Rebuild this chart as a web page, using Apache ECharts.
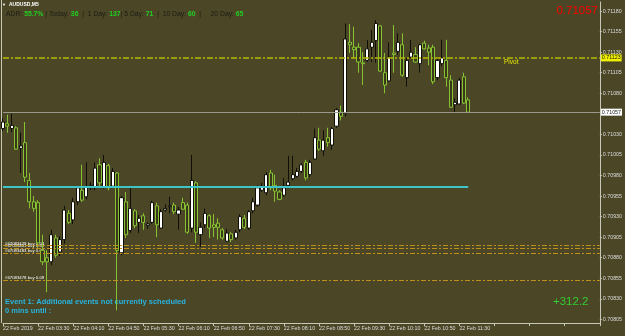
<!DOCTYPE html>
<html>
<head>
<meta charset="utf-8">
<script src="https://cdn.jsdelivr.net/npm/echarts@6/dist/echarts.min.js"></script>
<style>
html,body{margin:0;padding:0;background:#4a4626;}
#chart{width:625px;height:336px;}
</style>
</head>
<body>
<div id="chart"></div>
<script>
// AUDUSD M5, 22 Feb 2019, bars from 02:50 to 11:40
const opens = [
  0.71037,0.71043,0.71037,0.71038,0.71013,0.71020,0.70974,0.70948,0.70947,0.70889,
  0.70880,0.70875,0.70904,0.70887,0.70902,0.70934,0.70926,0.70948,0.70962,0.70954,
  0.70965,0.70965,0.70993,0.70966,0.70992,0.70967,0.70983,0.70886,0.70948,0.70913,
  0.70937,0.70923,0.70931,0.70919,0.70923,0.70943,0.70916,0.70938,0.70942,0.70944,
  0.70933,0.70947,0.70944,0.70916,0.70971,0.70908,0.70920,0.70931,0.70920,0.70922,
  0.70914,0.70900,0.70909,0.70904,0.70914,0.70928,0.70916,0.70937,0.70944,0.70962,
  0.70959,0.70983,0.70968,0.70960,0.70956,0.70968,0.70976,0.70979,0.70985,0.70996,
  0.70981,0.71000,0.71023,0.71010,0.71026,0.71017,0.71040,0.71057,0.71055,0.71142,
  0.71136,0.71136,0.71117,0.71120,0.71136,0.71144,0.71162,0.71105,0.71095,0.71129,
  0.71131,0.71139,0.71099,0.71124,0.71127,0.71116,0.71141,0.71135,0.71136,0.71099,
  0.71116,0.71120,0.71096,0.71066,0.71067,0.71100,0.71072
];
const closes = [
  0.71045,0.71040,0.71041,0.71012,0.71016,0.70978,0.70948,0.70940,0.70898,0.70875,
  0.70875,0.70908,0.70883,0.70902,0.70938,0.70923,0.70948,0.70965,0.70950,0.70966,
  0.70968,0.70989,0.70971,0.70996,0.70965,0.70985,0.70889,0.70953,0.70908,0.70940,
  0.70919,0.70928,0.70923,0.70921,0.70947,0.70920,0.70936,0.70940,0.70943,0.70936,
  0.70938,0.70939,0.70911,0.70974,0.70911,0.70917,0.70934,0.70916,0.70917,0.70917,
  0.70904,0.70910,0.70902,0.70911,0.70930,0.70917,0.70936,0.70948,0.70965,0.70966,
  0.70981,0.70965,0.70961,0.70951,0.70965,0.70972,0.70981,0.70985,0.70993,0.70977,
  0.70996,0.71026,0.71012,0.71023,0.71020,0.71037,0.71060,0.71052,0.71146,0.71139,
  0.71133,0.71118,0.71116,0.71134,0.71142,0.71165,0.71107,0.71090,0.71124,0.71127,
  0.71142,0.71102,0.71120,0.71130,0.71118,0.71139,0.71134,0.71130,0.71094,0.71120,
  0.71123,0.71099,0.71063,0.71069,0.71096,0.71068,0.71057
];
const lows = [
  0.71034,0.71032,0.71033,0.71011,0.70983,0.70972,0.70940,0.70936,0.70892,0.70871,
  0.70838,0.70871,0.70880,0.70882,0.70897,0.70921,0.70921,0.70944,0.70948,0.70951,
  0.70962,0.70962,0.70965,0.70964,0.70962,0.70965,0.70816,0.70883,0.70904,0.70910,
  0.70916,0.70910,0.70914,0.70915,0.70921,0.70905,0.70915,0.70936,0.70934,0.70933,
  0.70914,0.70938,0.70909,0.70911,0.70898,0.70893,0.70916,0.70904,0.70905,0.70902,
  0.70902,0.70899,0.70899,0.70902,0.70911,0.70915,0.70914,0.70934,0.70942,0.70960,
  0.70956,0.70962,0.70948,0.70950,0.70954,0.70967,0.70974,0.70977,0.70983,0.70974,
  0.70978,0.70999,0.71010,0.71004,0.71015,0.71011,0.71038,0.71047,0.71052,0.71129,
  0.71123,0.71105,0.71090,0.71118,0.71118,0.71117,0.71106,0.71080,0.71094,0.71105,
  0.71127,0.71100,0.71088,0.71123,0.71117,0.71105,0.71133,0.71114,0.71091,0.71096,
  0.71113,0.71088,0.71062,0.71056,0.71066,0.71067,0.71056
];
const highs = [
  0.71050,0.71054,0.71055,0.71040,0.71032,0.71045,0.70983,0.70955,0.70950,0.70908,
  0.70889,0.70914,0.70908,0.70906,0.70943,0.70938,0.70953,0.70967,0.70993,0.70996,
  0.70972,0.70996,0.71001,0.71005,0.70994,0.70989,0.70984,0.70955,0.70960,0.70965,
  0.70939,0.70932,0.70934,0.70923,0.70949,0.70947,0.70939,0.70945,0.70954,0.70947,
  0.70942,0.70953,0.70947,0.71005,0.70973,0.70923,0.70940,0.70933,0.70933,0.70928,
  0.70916,0.70915,0.70911,0.70914,0.70933,0.70932,0.70938,0.70953,0.70968,0.70971,
  0.70984,0.70987,0.70981,0.70962,0.70977,0.71004,0.71004,0.70989,0.70995,0.70999,
  0.70999,0.71037,0.71038,0.71035,0.71038,0.71039,0.71062,0.71065,0.71165,0.71164,
  0.71161,0.71141,0.71130,0.71145,0.71157,0.71169,0.71163,0.71129,0.71142,0.71163,
  0.71153,0.71153,0.71123,0.71145,0.71136,0.71140,0.71144,0.71139,0.71139,0.71123,
  0.71145,0.71145,0.71102,0.71074,0.71099,0.71105,0.71075
];

const xTickLabels = ['22 Feb 2019','22 Feb 03:30','22 Feb 04:10','22 Feb 04:50','22 Feb 05:30',
  '22 Feb 06:10','22 Feb 06:50','22 Feb 07:30','22 Feb 08:10','22 Feb 08:50','22 Feb 09:30',
  '22 Feb 10:10','22 Feb 10:50','22 Feb 11:30'];
const yTicks = [0.70805,0.70830,0.70855,0.70880,0.70905,0.70930,0.70955,0.70980,
  0.71005,0.71030,0.71080,0.71105,0.71130,0.71155,0.71180];

const pivot = 0.71123;
const bid = 0.71057;
const cyanLevel = 0.70966;
const tradeLevels = [0.70895, 0.70892, 0.70886, 0.70852];
const tradeLabels = ['#67083479 buy 0.09', '#67083481 buy 0.09', '#67083483 buy 0.09', '#67083478 buy 0.09'];

const slots = 137; // bars plus empty space to the right
const lastSlot = slots - 1;
const cats = [];
for (let i = 0; i < slots; i++) cats.push(i);
const ohlc = opens.map((o, i) => [o, closes[i], lows[i], highs[i]]);

const frame = '#c8c8b8';
const font = '"Liberation Sans", Arial, sans-serif';

function hline(v, x0, x1, lineStyle, label) {
  return [
    {coord: [x0, v], lineStyle: lineStyle, label: label || {show: false}},
    {coord: [x1, v]}
  ];
}

const chart = echarts.init(document.getElementById('chart'));

chart.setOption({
  animation: false,
  backgroundColor: '#4a4626',
  grid: {left: 0.75, right: 25, top: 2, bottom: 13},
  xAxis: {
    type: 'category',
    data: cats,
    boundaryGap: false,
    axisLine: {lineStyle: {color: frame, width: 1}},
    axisTick: {interval: 7, length: 3, lineStyle: {color: frame}},
    axisLabel: {
      interval: 7, align: 'left', margin: 3, fontSize: 5.3, color: '#dcdcdc', fontFamily: font,
      formatter: (v, i) => xTickLabels[i / 8] || ''
    },
    splitLine: {show: false}
  },
  yAxis: {
    type: 'value',
    position: 'right',
    min: 0.708006,
    max: 0.71191,
    axisLine: {show: true, lineStyle: {color: frame}},
    axisTick: {show: true, length: 2, customValues: yTicks, lineStyle: {color: frame}},
    axisLabel: {
      customValues: yTicks, formatter: v => v.toFixed(5),
      fontSize: 5.3, color: '#dcdcdc', margin: 3, fontFamily: font
    },
    splitLine: {show: false}
  },
  series: [{
    type: 'candlestick',
    data: ohlc,
    barWidth: 3.6,
    itemStyle: {
      color: '#ffffff', borderColor: '#101008',
      color0: '#3a381a', borderColor0: '#86c232',
      borderWidth: 1
    },
    markLine: {
      silent: true,
      symbol: 'none',
      data: [
        ...tradeLevels.map(v => hline(v, 0, lastSlot, {color: '#c0901c', type: [5, 2, 2, 2], width: 1})),
        hline(cyanLevel, 0, opens.length - 1, {color: '#3cc4c8', type: 'solid', width: 2}),
        hline(pivot, 0, lastSlot, {color: '#b8b800', type: [6, 2, 2, 2], width: 1.5}, {
          show: true, position: 'end', distance: 1, formatter: pivot.toFixed(5),
          backgroundColor: '#f0f000', color: '#202000', fontSize: 5.3, fontFamily: font, padding: [1, 1]
        }),
        hline(bid, 0, lastSlot, {color: '#9a9a8c', type: 'solid', width: 1}, {
          show: true, position: 'end', distance: 1, formatter: bid.toFixed(5),
          backgroundColor: '#ffffff', color: '#202020', fontSize: 5.3, fontFamily: font, padding: [1, 1]
        })
      ]
    }
  }],
  graphic: [
    {type: 'line', shape: {x1: 1.5, y1: 0, x2: 1.5, y2: 323}, style: {stroke: frame, lineWidth: 1}, silent: true},
    {type: 'text', x: 2, y: 5, style: {text: '▼', fill: '#ffffff', font: '4px ' + font, verticalAlign: 'middle'}},
    {type: 'text', x: 9, y: 5, style: {text: 'AUDUSD,M5', fill: '#ffffff', font: 'bold 5px ' + font, verticalAlign: 'middle'}},
    {type: 'text', x: 6, y: 14.5, style: {
      text: '{d|ADR: }{g|55.7%}{d| | Today: }{g|36}{d|  |  1 Day: }{g|137}{d|| 5 Day: }{g|71}{d|  |  10 Day: }{g|60}{d|  |     20 Day: }{g|65}',
      verticalAlign: 'middle',
      rich: {
        d: {fill: '#1c1c14', font: '6.8px ' + font},
        g: {fill: '#22d022', font: 'bold 6.8px ' + font}
      }
    }},
    {type: 'text', x: 598, y: 10.5, style: {text: '0.71057', fill: '#ff0000', font: '11.5px ' + font, align: 'right', verticalAlign: 'middle'}},
    {type: 'text', x: 504, y: 62, style: {text: 'Pivot', fill: '#e8e800', font: '6.5px ' + font, verticalAlign: 'middle'}},
    {type: 'text', x: 5, y: 243.5, style: {text: tradeLabels[0], fill: '#ffffff', font: '4.3px ' + font, verticalAlign: 'middle'}},
    {type: 'text', x: 5, y: 245.5, style: {text: tradeLabels[1], fill: '#ffffff', font: '4.3px ' + font, verticalAlign: 'middle'}},
    {type: 'text', x: 5, y: 251, style: {text: tradeLabels[2], fill: '#ffffff', font: '4.3px ' + font, verticalAlign: 'middle'}},
    {type: 'text', x: 5, y: 278, style: {text: tradeLabels[3], fill: '#ffffff', font: '4.3px ' + font, verticalAlign: 'middle'}},
    {type: 'text', x: 5, y: 302, style: {text: 'Event 1: Additional events not currently scheduled', fill: '#28b4e0', font: 'bold 7.5px ' + font, verticalAlign: 'middle'}},
    {type: 'text', x: 5, y: 310.5, style: {text: '0 mins until :', fill: '#28b4e0', font: 'bold 7.5px ' + font, verticalAlign: 'middle'}},
    {type: 'text', x: 553, y: 302, style: {text: '+312.2', fill: '#32cd32', font: '11.5px ' + font, verticalAlign: 'middle'}}
  ]
});
</script>
</body>
</html>
